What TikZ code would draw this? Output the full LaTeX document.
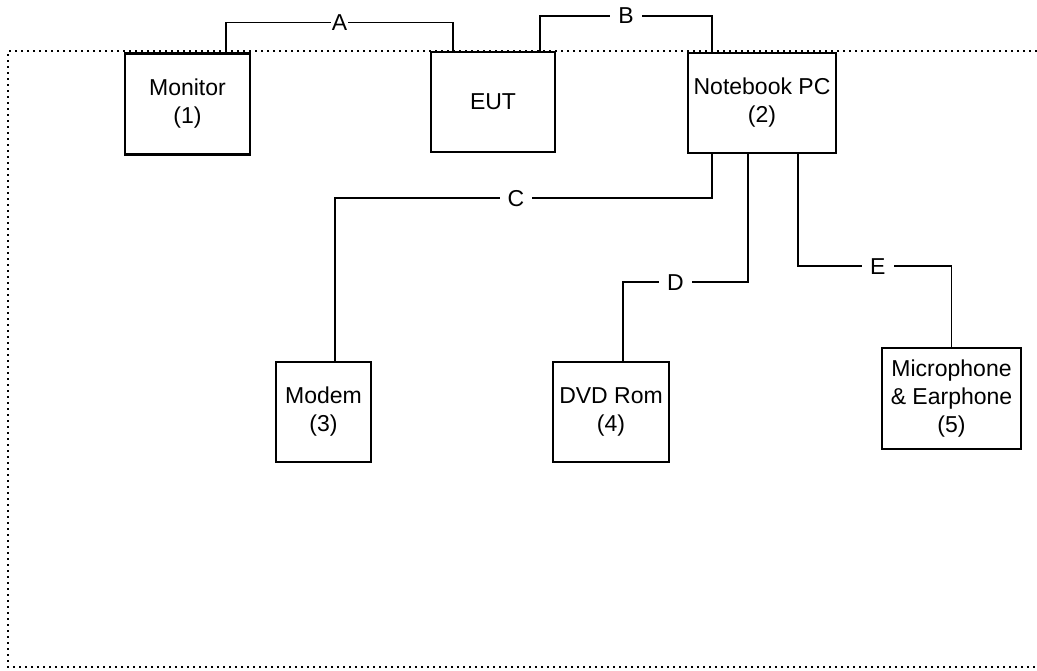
\documentclass[tikz,border=0pt]{standalone}
\usepackage{fontspec}
\setmainfont{Liberation Sans}
\usepackage{xcolor}
\usepackage{tikz}
\usetikzlibrary{positioning,calc}

\begin{document}
\begin{tikzpicture}[x=0.5pt, y=-0.5pt,
    unit/.style={draw, line width=1.1pt, fill=white, align=center, inner sep=1pt,
        font=\fontsize{11.5}{14}\selectfont},
    wire/.style={line width=0.9pt},
    lbl/.style={fill=white, inner xsep=4pt, inner ysep=0pt, font=\fontsize{11.5}{14}\selectfont}]
    \useasboundingbox (0,0) rectangle (1037,670);

    % Test area
    \draw[dotted, line width=1pt] (1037,51) -- (8,51) -- (8,667) -- (1037,667);

    % Blocks
    \node[unit, minimum width=62.5pt, minimum height=50.5pt] (mon) at (187.5,104) {Monitor\\(1)};
    \node[unit, minimum width=62pt, minimum height=50pt] (eut) at (493,102) {EUT};
    \node[unit, minimum width=74pt, minimum height=50pt] (nb) at (762,103) {Notebook PC\\(2)};
    \node[unit, minimum width=47.5pt, minimum height=50pt] (modem) at (323.5,412) {Modem\\(3)};
    \node[unit, minimum width=58pt, minimum height=50pt] (dvd) at (611,412) {DVD Rom\\(4)};
    \node[unit, minimum width=69.5pt, minimum height=50.5pt] (mic) at (951.5,398.5) {Microphone\\\& Earphone\\(5)};

    % Cables
    \draw[wire] ([xshift=19.25pt]mon.north) -- ++(0,-30) -| node[lbl, inner xsep=0.5pt, pos=0.25] {A} ([xshift=-20pt]eut.north);
    \draw[wire] ([xshift=23.5pt]eut.north) -- ++(0,-35) -| node[lbl, pos=0.25] {B} ([xshift=-25pt]nb.north);
    \draw[wire] ([xshift=-25pt]nb.south) -- ++(0,44) -| node[lbl, pos=0.26] {C} ([xshift=5.75pt]modem.north);
    \draw[wire, line width=1.3pt] ([xshift=-7pt]nb.south) -- ++(0,128) -| node[lbl, pos=0.29] {D} ([xshift=6pt]dvd.north);
    \draw[wire] ([xshift=18pt]nb.south) -- ++(0,112) -| node[lbl, pos=0.26] {E} (mic.north);
\end{tikzpicture}
\end{document}
